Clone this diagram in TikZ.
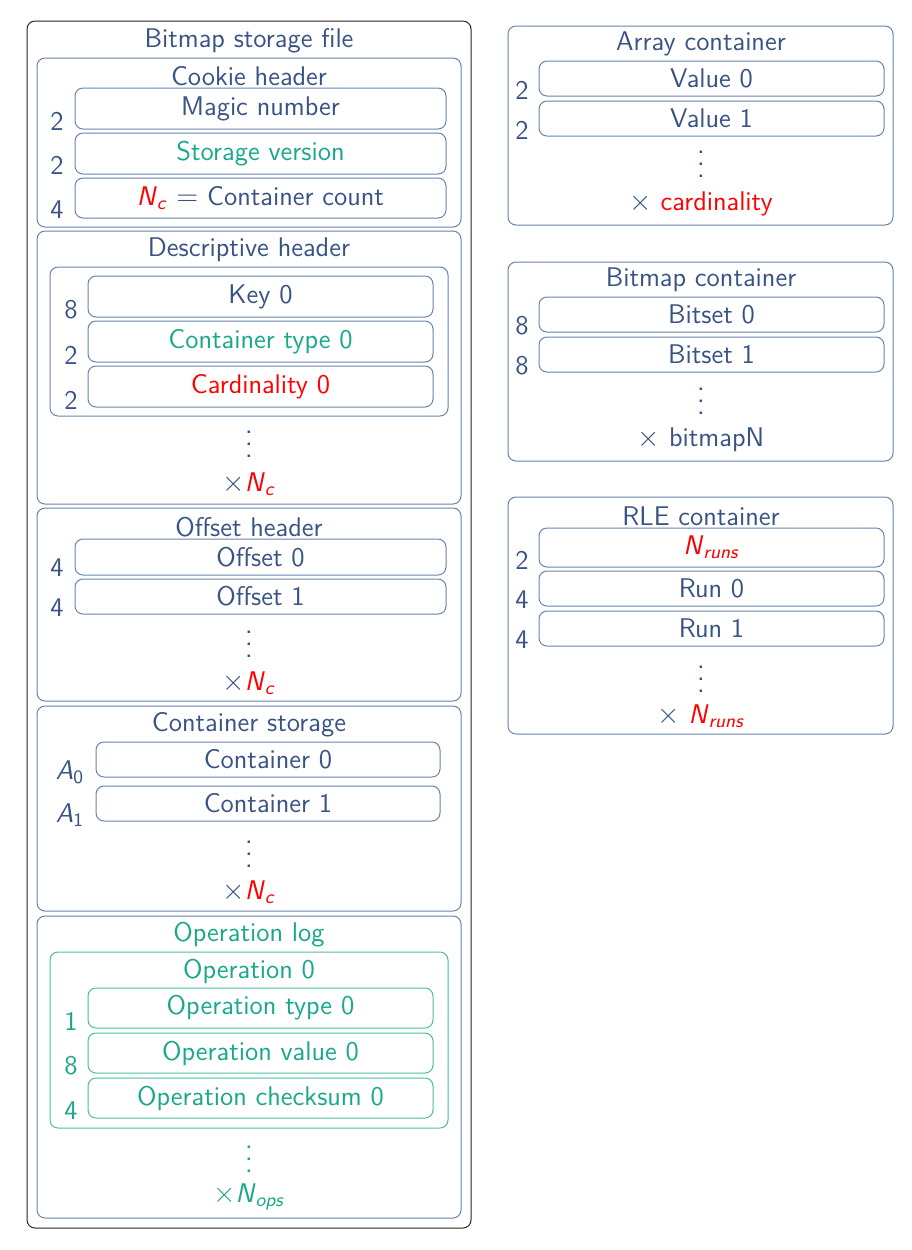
\documentclass[tikz,border=0pt]{standalone}
\usepackage{fontspec}
\usepackage{tikz}
\usetikzlibrary{fit, positioning}

\definecolor{struct}{RGB}{56,83,132}
\definecolor{frameblue}{RGB}{105,130,172}
\definecolor{opgreen}{RGB}{25,168,138}
\definecolor{oplight}{RGB}{70,190,162}

\newcommand{\Nc}{\textcolor{red}{\textit{N}\textsubscript{\textit{c}}}}
\newcommand{\Nruns}{\textcolor{red}{\textit{N}\textsubscript{\textit{runs}}}}
\newcommand{\vdotsx}{\vbox{\baselineskip6pt\lineskiplimit0pt\hbox{.}\hbox{.}\hbox{.}}}

\tikzset{
    every node/.style={font=\fontsize{13.5}{16}\selectfont\sffamily, text=struct},
    part/.style={draw=frameblue, rounded corners=4pt, inner sep=0pt, line width=0.5pt},
    outer/.style={part, draw=black!85},
    field/.style={part, label={center:#1}},
    greenfield/.style={part, label={[text=opgreen]center:#1}},
    redfield/.style={part, label={[text=red]center:#1}},
    oppart/.style={part, draw=oplight},
    opfield/.style={oppart, label={[text=opgreen]center:#1}},
    dots/.style={inner sep=0pt, font=\fontsize{15}{16}\selectfont\sffamily},
}

\begin{document}
\begin{tikzpicture}[x=0.5pt, y=-0.5pt]
    \useasboundingbox (0,0) rectangle (912,1250);

    % storage file
    \node[outer, fit={(27,21) (471,1228)}] (file) {};
    \node (file title) at (249,41) {Bitmap storage file};

    % cookie header
    \node[part, fit={(37,58) (461,227)}] (cookie) {};
    \node (cookie title) at (249,76) {Cookie header};
    \node[field={Magic number}, fit={(75,88) (446,129)}] (magic) {};
    \node[greenfield={Storage version}, fit={(75,133) (446,174)}] (version) {};
    \node[field={\Nc\ $=$ Container count}, fit={(75,178) (446,218)}] (count) {};
    \foreach \y/\n [count=\i] in {121/2, 165/2, 210/4}
        \node (cookie size \i) at (57,\y) {\n};

    % descriptive header
    \node[part, fit={(37,231) (461,504)}] (desc) {};
    \node (desc title) at (249,250) {Descriptive header};
    \node[part, fit={(50,267) (448,416)}] (desc entry) {};
    \node[field={Key 0}, fit={(88,276) (433,317)}] (key) {};
    \node[greenfield={Container type 0}, fit={(88,321) (433,362)}] (ctype) {};
    \node[redfield={Cardinality 0}, fit={(88,366) (433,407)}] (card) {};
    \foreach \y/\n [count=\i] in {310/8, 355/2, 400/2}
        \node (desc size \i) at (71,\y) {\n};
    \node[dots] (desc dots) at (249,444) {\vdotsx};
    \node (desc times) at (249,484) {$\times$\Nc};

    % offset header
    \node[part, fit={(37,508) (461,701)}] (offset) {};
    \node (offset title) at (249,527) {Offset header};
    \node[field={Offset 0}, fit={(75,539) (446,575)}] (off0) {};
    \node[field={Offset 1}, fit={(75,579) (446,614)}] (off1) {};
    \foreach \y/\n [count=\i] in {568/4, 608/4}
        \node (offset size \i) at (57,\y) {\n};
    \node[dots] (offset dots) at (249,644) {\vdotsx};
    \node (offset times) at (249,683) {$\times$\Nc};

    % container storage
    \node[part, fit={(37,706) (461,911)}] (storage) {};
    \node (storage title) at (249,725) {Container storage};
    \node[field={Container 0}, fit={(96,742) (440,777)}] (cont0) {};
    \node[field={Container 1}, fit={(96,786) (440,821)}] (cont1) {};
    \node (addr0) at (70,772) {\textit{A}\textsubscript{0}};
    \node (addr1) at (70,815) {\textit{A}\textsubscript{1}};
    \node[dots] (storage dots) at (249,854) {\vdotsx};
    \node (storage times) at (249,892) {$\times$\Nc};

    % operation log
    \node[part, fit={(37,916) (461,1218)}] (oplog) {};
    \node[text=opgreen] (oplog title) at (249,935) {Operation log};
    \node[oppart, fit={(50,952) (448,1128)}] (op) {};
    \node[text=opgreen] (op title) at (249,971) {Operation 0};
    \node[opfield={Operation type 0}, fit={(88,988) (433,1028)}] (optype) {};
    \node[opfield={Operation value 0}, fit={(88,1033) (433,1073)}] (opvalue) {};
    \node[opfield={Operation checksum 0}, fit={(88,1078) (433,1118)}] (opsum) {};
    \foreach \y/\n [count=\i] in {1021/1, 1066/8, 1111/4}
        \node[text=opgreen] (op size \i) at (71,\y) {\n};
    \node[dots, text=opgreen] (oplog dots) at (249,1159) {\vdotsx};
    \node[text=opgreen] (oplog times) at (249,1197) {$\times$\textit{N}\textsubscript{\textit{ops}}};

    % array container
    \node[part, fit={(508,26) (893,225)}] (array) {};
    \node (array title) at (701,44) {Array container};
    \node[field={Value 0}, fit={(539,61) (884,96)}] (val0) {};
    \node[field={Value 1}, fit={(539,101) (884,136)}] (val1) {};
    \foreach \y/\n [count=\i] in {90/2, 130/2}
        \node (array size \i) at (522,\y) {\n};
    \node[dots] (array dots) at (701,164) {\vdotsx};
    \node (array times) at (701,204) {$\times$ \textcolor{red}{cardinality}};

    % bitmap container
    \node[part, fit={(508,262) (893,461)}] (bitmap) {};
    \node (bitmap title) at (701,280) {Bitmap container};
    \node[field={Bitset 0}, fit={(539,297) (884,332)}] (bits0) {};
    \node[field={Bitset 1}, fit={(539,337) (884,372)}] (bits1) {};
    \foreach \y/\n [count=\i] in {326/8, 366/8}
        \node (bitmap size \i) at (522,\y) {\n};
    \node[dots] (bitmap dots) at (701,401) {\vdotsx};
    \node (bitmap times) at (701,440) {$\times$ bitmapN};

    % rle container
    \node[part, fit={(508,497) (893,734)}] (rle) {};
    \node (rle title) at (701,516) {RLE container};
    \node[redfield={\textit{N}\textsubscript{\textit{runs}}}, fit={(539,528) (884,567)}] (nruns) {};
    \node[field={Run 0}, fit={(539,571) (884,606)}] (run0) {};
    \node[field={Run 1}, fit={(539,611) (884,646)}] (run1) {};
    \foreach \y/\n [count=\i] in {560/2, 600/4, 640/4}
        \node (rle size \i) at (522,\y) {\n};
    \node[dots] (rle dots) at (701,679) {\vdotsx};
    \node (rle times) at (701,716) {$\times$ \Nruns};
\end{tikzpicture}
\end{document}
